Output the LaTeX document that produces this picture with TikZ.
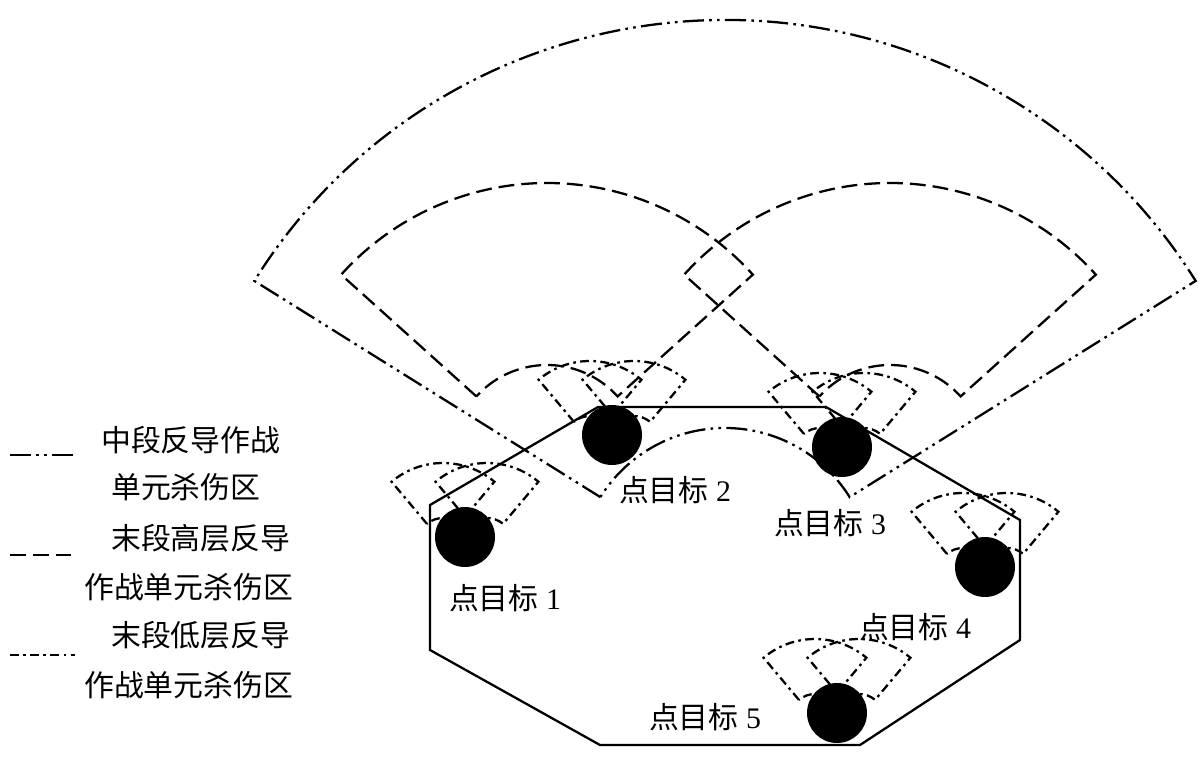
\documentclass[tikz,border=0pt]{standalone}
\usepackage{fontspec}
\setmainfont{Liberation Serif}
\newfontfamily\cjk{Noto Sans CJK SC}
\usetikzlibrary{calc}
\tikzset{
  midzone/.style={line width=1.3pt, dash pattern=on 12pt off 3pt on 1.5pt off 3pt on 1.5pt off 3pt},
  highzone/.style={line width=1.3pt, dash pattern=on 9pt off 4pt},
  lowzone/.style={line width=1.3pt, dash pattern=on 5pt off 2.5pt on 1.5pt off 2.5pt},
  target/.style={circle, fill=black, minimum size=1.2cm, inner sep=0pt},
  tlabel/.style={font=\fontsize{17}{20}\selectfont},
  legtext/.style={anchor=west, font=\fontsize{17}{20}\selectfont}
}
% sector: apex, inner r, outer r, start, end, style
\newcommand{\fanzone}[6]{%
  \draw[#6] ($(#1)+(#4:#2)$) -- ($(#1)+(#4:#3)$) arc[start angle=#4, end angle=#5, radius=#3]
    -- ($(#1)+(#5:#2)$) arc[start angle=#5, end angle=#4, radius=#2];}
\begin{document}
\begin{tikzpicture}[x=0.02cm, y=-0.02cm]
  \useasboundingbox (0,0) rectangle (1200,758);
  % Defended area
  \draw[line width=1.3pt] (430,505) -- (598,407) -- (826,407) -- (1020,520) -- (1020,640)
    -- (860,745) -- (600,745) -- (430,650) -- cycle;
  % Mid-course zone
  \coordinate (mid) at (725,575);
  \fanzone{mid}{147}{555}{-148}{-32}{midzone}
  % High-level terminal zones
  \coordinate (highL) at (547,460);
  \coordinate (highR) at (890,460);
  \fanzone{highL}{95}{277}{-138}{-42}{highzone}
  \fanzone{highR}{95}{277}{-138}{-42}{highzone}
  % Targets
  \node[target] (t1) at (465,537) {};
  \node[target] (t2) at (612,435) {};
  \node[target] (t3) at (842,447) {};
  \node[target] (t4) at (985,567) {};
  \node[target] (t5) at (837,713) {};
  % Low-level terminal zones
  \foreach \t in {t1,t2,t3,t4,t5} {
    \fanzone{$(\t)+(-22,6)$}{25}{80}{-130}{-50}{lowzone}
    \fanzone{$(\t)+(22,6)$}{25}{80}{-130}{-50}{lowzone}
  }
  % Labels
  \node[tlabel] (l1) at (505,598) {{\cjk 点目标} 1};
  \node[tlabel] (l2) at (675,490) {{\cjk 点目标} 2};
  \node[tlabel] (l3) at (830,523) {{\cjk 点目标} 3};
  \node[tlabel] (l4) at (915,627) {{\cjk 点目标} 4};
  \node[tlabel] (l5) at (705,717) {{\cjk 点目标} 5};
  % Legend
  \draw[midzone] (10,455) -- (75,455);
  \draw[highzone] (10,555) -- (75,555);
  \draw[lowzone] (10,655) -- (75,655);
  \node[legtext] (m1) at (95,440) {\cjk 中段反导作战};
  \node[legtext] (m2) at (105,487) {\cjk 单元杀伤区};
  \node[legtext] (h1) at (105,538) {\cjk 末段高层反导};
  \node[legtext] (h2) at (78,587) {\cjk 作战单元杀伤区};
  \node[legtext] (d1) at (105,635) {\cjk 末段低层反导};
  \node[legtext] (d2) at (78,685) {\cjk 作战单元杀伤区};
\end{tikzpicture}
\end{document}
